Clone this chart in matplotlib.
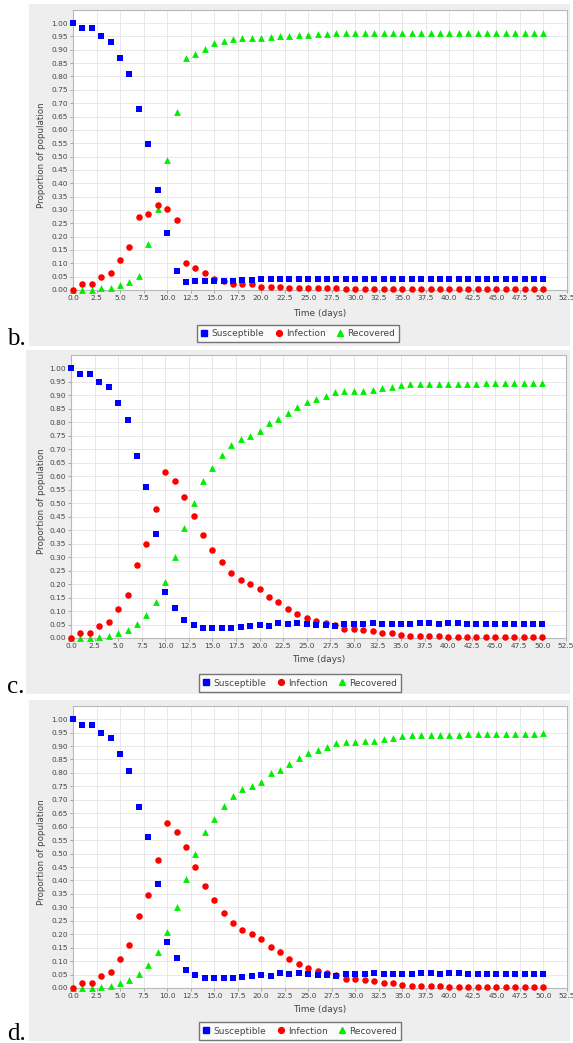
import matplotlib
matplotlib.use("Agg")
import matplotlib.pyplot as plt
from matplotlib.patches import Rectangle
from matplotlib.lines import Line2D
import numpy as np

W, H = 573, 1043

days = list(range(51))

b_susceptible = [1.00, 0.981, 0.981, 0.952, 0.930, 0.871, 0.809, 0.677, 0.547, 0.376,
                 0.213, 0.072, 0.030, 0.034, 0.034, 0.034, 0.035, 0.035, 0.039, 0.039,
                 0.041, 0.041, 0.043, 0.043, 0.043, 0.040, 0.040, 0.040, 0.040, 0.040,
                 0.040, 0.040, 0.040, 0.040, 0.040, 0.040, 0.040, 0.040, 0.040, 0.040,
                 0.040, 0.040, 0.040, 0.040, 0.040, 0.040, 0.040, 0.040, 0.040, 0.040, 0.040]
b_infection = [0.000, 0.021, 0.021, 0.048, 0.062, 0.112, 0.162, 0.272, 0.286, 0.320,
               0.303, 0.261, 0.102, 0.081, 0.062, 0.041, 0.033, 0.021, 0.021, 0.021,
               0.013, 0.013, 0.011, 0.009, 0.008, 0.006, 0.006, 0.006, 0.006, 0.005,
               0.005, 0.005, 0.004, 0.004, 0.004, 0.004, 0.004, 0.004, 0.004, 0.003,
               0.003, 0.003, 0.003, 0.003, 0.003, 0.003, 0.002, 0.002, 0.002, 0.002, 0.002]
b_recovered = [0.000, 0.000, 0.000, 0.006, 0.009, 0.020, 0.031, 0.054, 0.171, 0.302,
               0.486, 0.665, 0.871, 0.886, 0.904, 0.926, 0.932, 0.941, 0.943, 0.943,
               0.943, 0.947, 0.951, 0.953, 0.955, 0.957, 0.960, 0.960, 0.961, 0.961,
               0.961, 0.961, 0.961, 0.961, 0.961, 0.962, 0.962, 0.962, 0.962, 0.962,
               0.962, 0.962, 0.962, 0.962, 0.962, 0.962, 0.962, 0.962, 0.962, 0.962, 0.962]

c_susceptible = [1.00, 0.979, 0.979, 0.949, 0.929, 0.871, 0.808, 0.674, 0.560, 0.387,
                 0.171, 0.112, 0.066, 0.047, 0.036, 0.038, 0.036, 0.036, 0.042, 0.045,
                 0.047, 0.045, 0.055, 0.052, 0.057, 0.053, 0.047, 0.047, 0.043, 0.052,
                 0.052, 0.052, 0.057, 0.052, 0.052, 0.052, 0.052, 0.057, 0.057, 0.052,
                 0.057, 0.057, 0.052, 0.052, 0.052, 0.052, 0.052, 0.052, 0.052, 0.052, 0.052]
c_infection = [0.000, 0.019, 0.019, 0.046, 0.061, 0.108, 0.160, 0.269, 0.347, 0.478,
               0.614, 0.581, 0.523, 0.451, 0.381, 0.328, 0.280, 0.242, 0.216, 0.202,
               0.181, 0.151, 0.134, 0.109, 0.088, 0.073, 0.063, 0.055, 0.047, 0.035,
               0.035, 0.031, 0.026, 0.019, 0.019, 0.012, 0.007, 0.006, 0.008, 0.007,
               0.005, 0.005, 0.005, 0.005, 0.005, 0.005, 0.004, 0.004, 0.003, 0.003, 0.003]
c_recovered = [0.000, 0.000, 0.000, 0.004, 0.007, 0.019, 0.030, 0.051, 0.086, 0.133,
               0.209, 0.301, 0.406, 0.499, 0.581, 0.629, 0.677, 0.716, 0.739, 0.750,
               0.767, 0.798, 0.810, 0.834, 0.856, 0.875, 0.886, 0.898, 0.910, 0.914,
               0.914, 0.917, 0.920, 0.926, 0.929, 0.937, 0.940, 0.940, 0.940, 0.941,
               0.942, 0.942, 0.943, 0.943, 0.944, 0.944, 0.945, 0.945, 0.946, 0.946, 0.947]

d_susceptible = list(c_susceptible)
d_infection = list(c_infection)
d_recovered = list(c_recovered)

series_names = ["Susceptible", "Infection", "Recovered"]
x_ticks = [i * 2.5 for i in range(22)]
y_ticks = [i * 0.05 for i in range(21)]

COL_S = "#0000ff"
COL_I = "#ff0000"
COL_R = "#00ee00"

fig = plt.figure(figsize=(W / 100, H / 100), dpi=100)
fig.patch.set_facecolor("white")


def fx(x):
    return x / W


def fy(y):
    return 1 - y / H


def panel(tag, data, ax_box, gray_box, legend_c, tag_y, xlabel_y):
    gl, gt, gr, gb = gray_box
    fig.patches.append(Rectangle((fx(gl), fy(gb)), fx(gr - gl), (gb - gt) / H,
                                 transform=fig.transFigure, facecolor="#eeeeee",
                                 edgecolor="none", zorder=-10))
    l, t, r, b = ax_box
    ax = fig.add_axes([fx(l), fy(b), fx(r - l), (b - t) / H])
    ax.set_zorder(2)
    ax.set_facecolor("white")
    s, i, rr = data
    ax.scatter(days, rr, marker="^", s=24, color=COL_R, linewidths=0, zorder=3, clip_on=False)
    ax.scatter(days, i, marker="o", s=22, color=COL_I, linewidths=0, zorder=4, clip_on=False)
    ax.scatter(days, s, marker="s", s=24, color=COL_S, linewidths=0, zorder=5, clip_on=False)
    ax.set_xlim(0, 52.5)
    ax.set_ylim(0, 1.049)
    ax.set_xticks(x_ticks)
    ax.set_xticklabels([f"{v:.1f}" for v in x_ticks])
    ax.set_yticks(y_ticks)
    ax.set_yticklabels([f"{v:.2f}" for v in y_ticks])
    ax.tick_params(axis="both", labelsize=5.3, length=2, width=0.5, color="#888888",
                   labelcolor="#444444", pad=1.5)
    ax.grid(True, color="#e4e4e4", linewidth=0.6)
    ax.set_axisbelow(True)
    for sp in ax.spines.values():
        sp.set_color("#b8b8b8")
        sp.set_linewidth(0.8)
    fig.text(fx((l + r) / 2), fy(xlabel_y), "Time (days)", fontsize=6.5, color="#444444",
             ha="center", va="center", zorder=3)
    fig.text(fx(42), fy((t + b) / 2 + 5), "Proportion of population", fontsize=6.3,
             color="#444444", ha="center", va="center", rotation=90, zorder=3)
    handles = [Line2D([], [], marker="s", color=COL_S, linestyle="none", markersize=4.2),
               Line2D([], [], marker="o", color=COL_I, linestyle="none", markersize=4.2),
               Line2D([], [], marker="^", color=COL_R, linestyle="none", markersize=4.5)]
    leg = fig.legend(handles, series_names, loc="center",
                     bbox_to_anchor=(fx(legend_c[0]), fy(legend_c[1])), ncol=3,
                     fontsize=6.5, frameon=True, fancybox=False, handlelength=0.8,
                     handletextpad=0.4, columnspacing=1.2, borderpad=0.45,
                     borderaxespad=0)
    leg.set_zorder(3)
    leg.get_frame().set_edgecolor("#555555")
    leg.get_frame().set_linewidth(1.0)
    for txt in leg.get_texts():
        txt.set_color("#444444")
    fig.text(fx(7), fy(tag_y), tag, fontsize=18, family="Liberation Serif",
             ha="left", va="baseline", color="black", zorder=3)


panel("b.", (b_susceptible, b_infection, b_recovered),
      (73, 10, 567, 290), (29, 4, 570, 346), (298, 333.5), 345, 313)
panel("c.", (c_susceptible, c_infection, c_recovered),
      (71, 355, 566, 638), (26, 350, 570, 694), (300, 683), 693, 660)
panel("d.", (d_susceptible, d_infection, d_recovered),
      (73, 706, 567, 988), (29, 700, 570, 1041), (300, 1031), 1040, 1010)

fig.savefig("out.png", dpi=100)
